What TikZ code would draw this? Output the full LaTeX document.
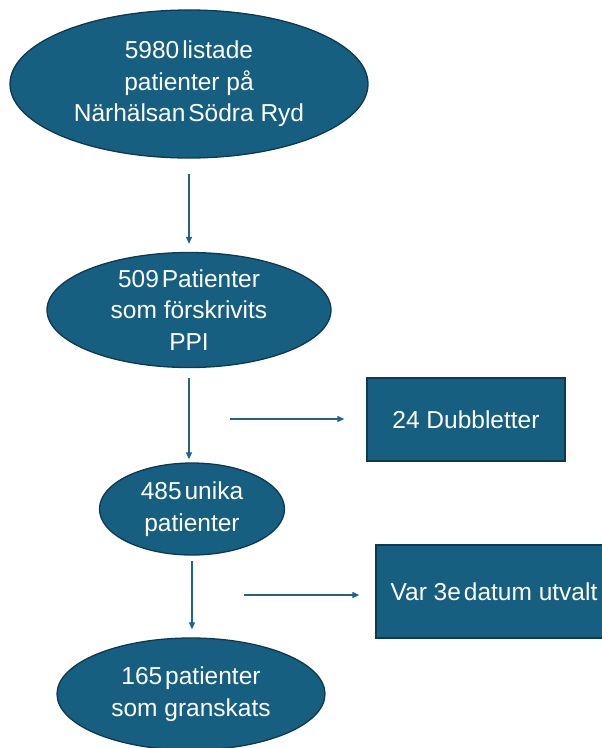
\documentclass[tikz,border=0pt]{standalone}
\usepackage{fontspec}
\setmainfont{Liberation Sans}
\usetikzlibrary{shapes.geometric,arrows.meta,calc}
\definecolor{fillblue}{HTML}{175F80}
\definecolor{edgeblue}{HTML}{0E3A50}
\definecolor{arrblue}{HTML}{1F6589}
\tikzset{
  oval/.style={ellipse, draw=edgeblue, line width=1.3pt, fill=fillblue, inner sep=0pt, text=white, align=center, font=\fontsize{24.5}{31.5}\selectfont},
  rectbox/.style={rectangle, draw=edgeblue, line width=1.3pt, fill=fillblue, inner sep=0pt, text=white, align=center, font=\fontsize{24.5}{31.5}\selectfont},
  arr/.style={draw=arrblue, line width=1.2pt, -{Triangle[length=7pt,width=6pt]}}
}
\newcommand{\tg}{\hspace{0.12em}}
\begin{document}
\begin{tikzpicture}[x=1pt,y=-1pt]
\useasboundingbox (0,0) rectangle (602,748);
\clip (0,0) rectangle (602,748);
\node[oval, minimum width=358pt, minimum height=148pt] (e1) at (189,84) {5980\tg listade\\patienter på\\Närhälsan\tg Södra Ryd};
\node[oval, minimum width=284pt, minimum height=115pt] (e2) at (189,310) {509\tg Patienter\\som förskrivits\\PPI};
\node[oval, minimum width=185pt, minimum height=92pt] (e3) at (192,509) {485\tg unika\\patienter};
\node[oval, minimum width=268pt, minimum height=112pt] (e4) at (191,694) {165\tg patienter\\som granskats};
\node[rectbox, minimum width=198pt, minimum height=83pt] (b1) at (466,419.5) {24 Dubbletter};
\node[rectbox, minimum width=236pt, minimum height=93pt] (b2) at (494,591.5) {Var 3e\tg datum utvalt};
\coordinate (h1) at (230,419);
\coordinate (h2) at (244,595);
\draw[arr, shorten <=15pt, shorten >=8pt] (e1.south) -- (e2.north);
\draw[arr, shorten <=10pt, shorten >=3pt] (e2.south) -- (e2.south |- e3.north);
\draw[arr, shorten <=5pt, shorten >=8pt] (e3.south) -- (e3.south |- e4.north);
\draw[arr, shorten >=22pt] (h1) -- (h1 -| b1.west);
\draw[arr, shorten >=16pt] (h2) -- (h2 -| b2.west);
\end{tikzpicture}
\end{document}
